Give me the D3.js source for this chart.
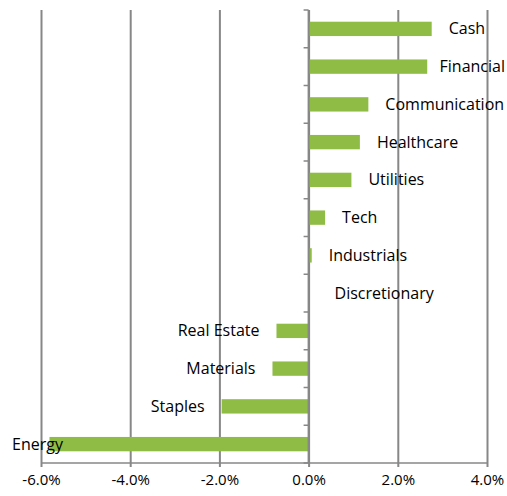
<!DOCTYPE html>
<html>
<head>
<meta charset="utf-8">
<script src="https://cdn.jsdelivr.net/npm/d3@7"></script>
<style>
  body { margin: 0; background: #fff; }
  svg text { font-family: "Open Sans", sans-serif; fill: #000; }
</style>
</head>
<body>
<div id="chart"></div>
<script>
// categories top to bottom
const sectors = ["Cash", "Financial", "Communication", "Healthcare", "Utilities", "Tech",
  "Industrials", "Discretionary", "Real Estate", "Materials", "Staples", "Energy"];
// relative weight, in %
const weights = [2.76, 2.66, 1.34, 1.15, 0.96, 0.37, 0.07, 0.0, -0.72, -0.81, -1.95, -5.81];
const xTicks = [-6, -4, -2, 0, 2, 4];

const width = 507, height = 496;
const plotLeft = 41, plotRight = 487, plotTop = 10, plotBottom = 463;
const barColor = "#8fbc45", gridColor = "#878787";

let svg = d3.select("#chart").append("svg")
    .attr("width", width)
    .attr("height", height);

let x = d3.scaleLinear().domain([-6, 4]).range([plotLeft, plotRight]);
let y = d3.scaleBand().domain(sectors).range([plotTop, plotBottom]).paddingInner(0.62).paddingOuter(0.31);
let yb = d3.scaleBand().domain(sectors).range([plotTop, plotBottom]);

// vertical grid + x axis
svg.append("g")
    .attr("transform", "translate(0," + plotBottom + ")")
    .call(d3.axisBottom(x).tickValues(xTicks).tickSize(-(plotBottom - plotTop)).tickFormat(d => d.toFixed(1) + "%"))
    .call(g => g.select(".domain").attr("stroke", gridColor).attr("stroke-width", 1.5).attr("d", `M${plotLeft},0H${plotRight}`))
    .call(g => g.selectAll(".tick line").attr("stroke", gridColor).attr("stroke-width", 2).attr("y2", 4).attr("y1", -(plotBottom - plotTop)))
    .call(g => g.selectAll(".tick text").attr("y", 17).attr("dy", "0.32em").style("font-size", "15px").attr("fill", "#000"));

// category axis at zero
let zero = x(0);
svg.append("g")
    .selectAll("line")
    .data(sectors.concat(["_end"]))
    .enter()
    .append("line")
    .attr("x1", zero - 5).attr("x2", zero)
    .attr("y1", (d, i) => plotTop + i * yb.step())
    .attr("y2", (d, i) => plotTop + i * yb.step())
    .attr("stroke", gridColor).attr("stroke-width", 1.5);

// bars
svg.append("g")
    .selectAll("rect")
    .data(sectors)
    .enter()
    .append("rect")
    .attr("x", (d, i) => Math.min(x(weights[i]), zero))
    .attr("width", (d, i) => Math.abs(x(weights[i]) - zero))
    .attr("y", d => y(d))
    .attr("height", y.bandwidth())
    .attr("fill", barColor);

svg.append("line")
    .attr("x1", zero).attr("x2", zero).attr("y1", plotTop).attr("y2", plotBottom)
    .attr("stroke", gridColor).attr("stroke-width", 2);

// labels
const extraShift = {"Discretionary": 9};
svg.append("g")
    .selectAll("text")
    .data(sectors)
    .enter()
    .append("text")
    .style("font-size", "16px")
    .attr("y", d => yb(d) + yb.bandwidth() / 2)
    .attr("dy", "0.35em")
    .text(d => d)
    .each(function(d, i) {
        let t = d3.select(this);
        let w = this.getComputedTextLength();
        let v = weights[i];
        if (v >= 0) {
            let px = x(v) + 17 + (extraShift[d] || 0);
            px = Math.min(px, width - 2 - w);
            t.attr("x", px);
        } else {
            let px = x(v) - 17 - w;
            px = Math.max(px, 12);
            t.attr("x", px);
        }
    });
</script>
</body>
</html>
